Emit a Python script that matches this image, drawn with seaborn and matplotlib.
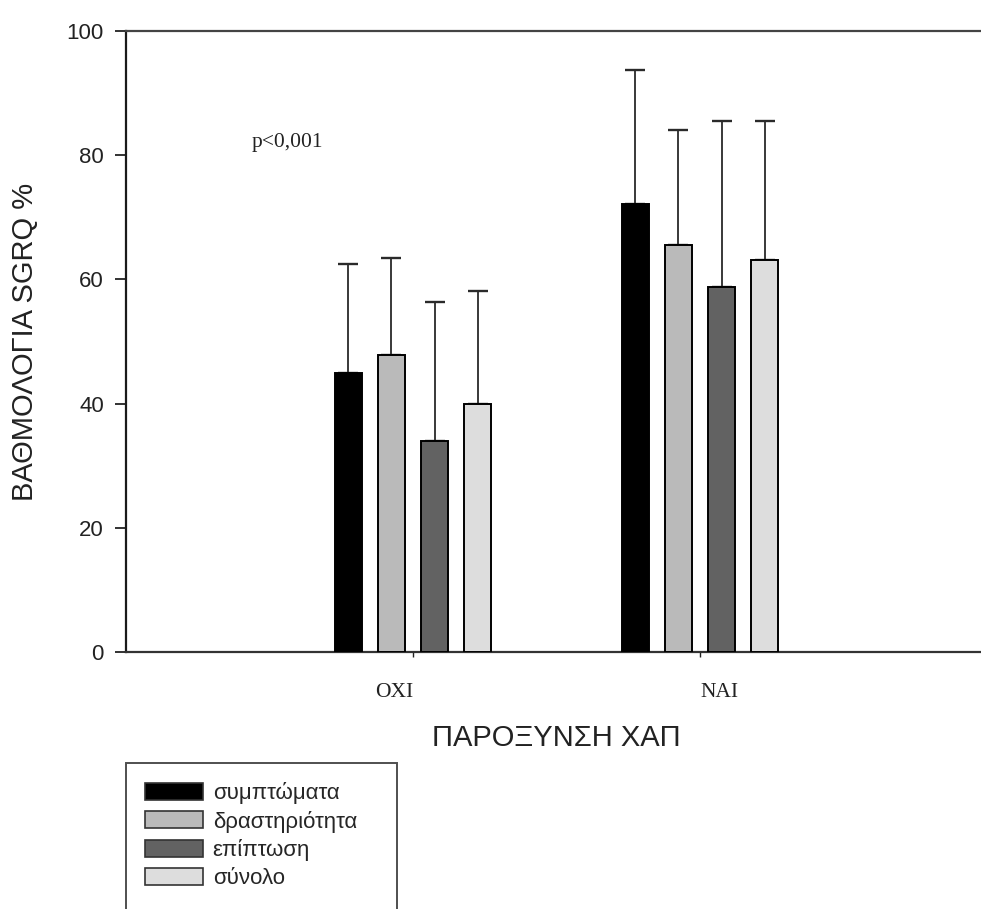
import numpy as np
import pandas as pd
import matplotlib
matplotlib.use("Agg")
import matplotlib.pyplot as plt
from matplotlib.patches import Patch
import seaborn as sns

# data
groups = ["ΟΧΙ", "ΝΑΙ"]
measures = ["συμπτώματα", "δραστηριότητα", "επίπτωση", "σύνολο"]
oxi_means = [45.0, 47.9, 33.9, 40.0]
oxi_sd = [17.4, 15.5, 22.4, 18.1]
nai_means = [72.1, 65.5, 58.8, 63.2]
nai_sd = [21.6, 18.5, 26.7, 22.3]
colors = ["#000000", "#bababa", "#626262", "#dddddd"]

sns.set_style("white")
plt.rcParams["font.family"] = ["Liberation Sans", "DejaVu Sans"]

df = pd.DataFrame({
    "group": [groups[0]] * 4 + [groups[1]] * 4,
    "measure": measures * 2,
    "value": oxi_means + nai_means,
    "sd": oxi_sd + nai_sd,
})

fig = plt.figure(figsize=(9.81, 9.09), dpi=100)
ax = fig.add_axes([126 / 981, 1 - 652 / 909, 861 / 981, 621 / 909])

sns.barplot(data=df, x="group", y="value", hue="measure", order=groups,
            hue_order=measures, palette=colors, width=0.6, gap=0.37,
            errorbar=None, edgecolor="black", linewidth=1.4, legend=False,
            ax=ax, zorder=3)

# upward-only error bars
for cont, m in zip(ax.containers, measures):
    sds = df[df["measure"] == m].set_index("group").loc[groups, "sd"].values
    for bar, sd in zip(cont, sds):
        xc = bar.get_x() + bar.get_width() / 2
        h = bar.get_height()
        ax.errorbar(xc, h, yerr=[[0], [sd]], fmt="none", ecolor="#2a2a2a",
                    elinewidth=1.3, capsize=7, capthick=1.7, zorder=2)

ax.set_xlim(-1.0, 2.0)
ax.set_ylim(0, 100)
ax.set_yticks([0, 20, 40, 60, 80, 100])
ax.set_xticks([0, 1], groups)
ax.tick_params(axis="y", direction="out", length=8, width=1.3, pad=8,
               labelsize=16, left=True, colors="#222222")
ax.tick_params(axis="x", direction="out", length=3.5, width=1.0, pad=19,
               labelsize=15.5, bottom=True, colors="#222222")
for t in ax.get_xticklabels():
    t.set_fontfamily(["Liberation Serif", "DejaVu Serif"])
ticks = ax.xaxis.get_major_ticks()
ticks[0].label1.set_horizontalalignment("right")
ticks[1].label1.set_horizontalalignment("left")

ax.set_xlabel("ΠΑΡΟΞΥΝΣΗ ΧΑΠ", fontsize=21, labelpad=16, color="#222222")
ax.set_ylabel("ΒΑΘΜΟΛΟΓΙΑ SGRQ %", fontsize=21, labelpad=20, color="#222222")

ax.spines["right"].set_visible(False)
ax.spines["left"].set_linewidth(1.6)
ax.spines["left"].set_color("#1a1a1a")
ax.spines["bottom"].set_linewidth(1.6)
ax.spines["bottom"].set_color("#333333")
ax.spines["top"].set_linewidth(1.6)
ax.spines["top"].set_color("#444444")

ax.text(-0.564, 82, "p<0,001", fontsize=15.5, va="center", ha="left",
        family=["Liberation Serif", "DejaVu Serif"], color="#222222")

# legend box, running off the bottom of the picture
handles = [Patch(facecolor=c, edgecolor="#333333", linewidth=1.2) for c in colors]
handles.append(Patch(facecolor="none", edgecolor="none"))
labels = measures + [""]
leg = fig.legend(handles, labels, loc="upper left", mode="expand",
                 bbox_to_anchor=(126 / 981, 1 - 763 / 909 - 0.01, 271 / 981, 0.01),
                 fontsize=16, frameon=True, fancybox=False, borderpad=0.85,
                 handlelength=2.6, handleheight=0.8, handletextpad=0.45,
                 labelspacing=0.3, borderaxespad=0)
leg.get_frame().set_edgecolor("#222222")
leg.get_frame().set_linewidth(1.4)

fig.savefig("out.png", dpi=100)
